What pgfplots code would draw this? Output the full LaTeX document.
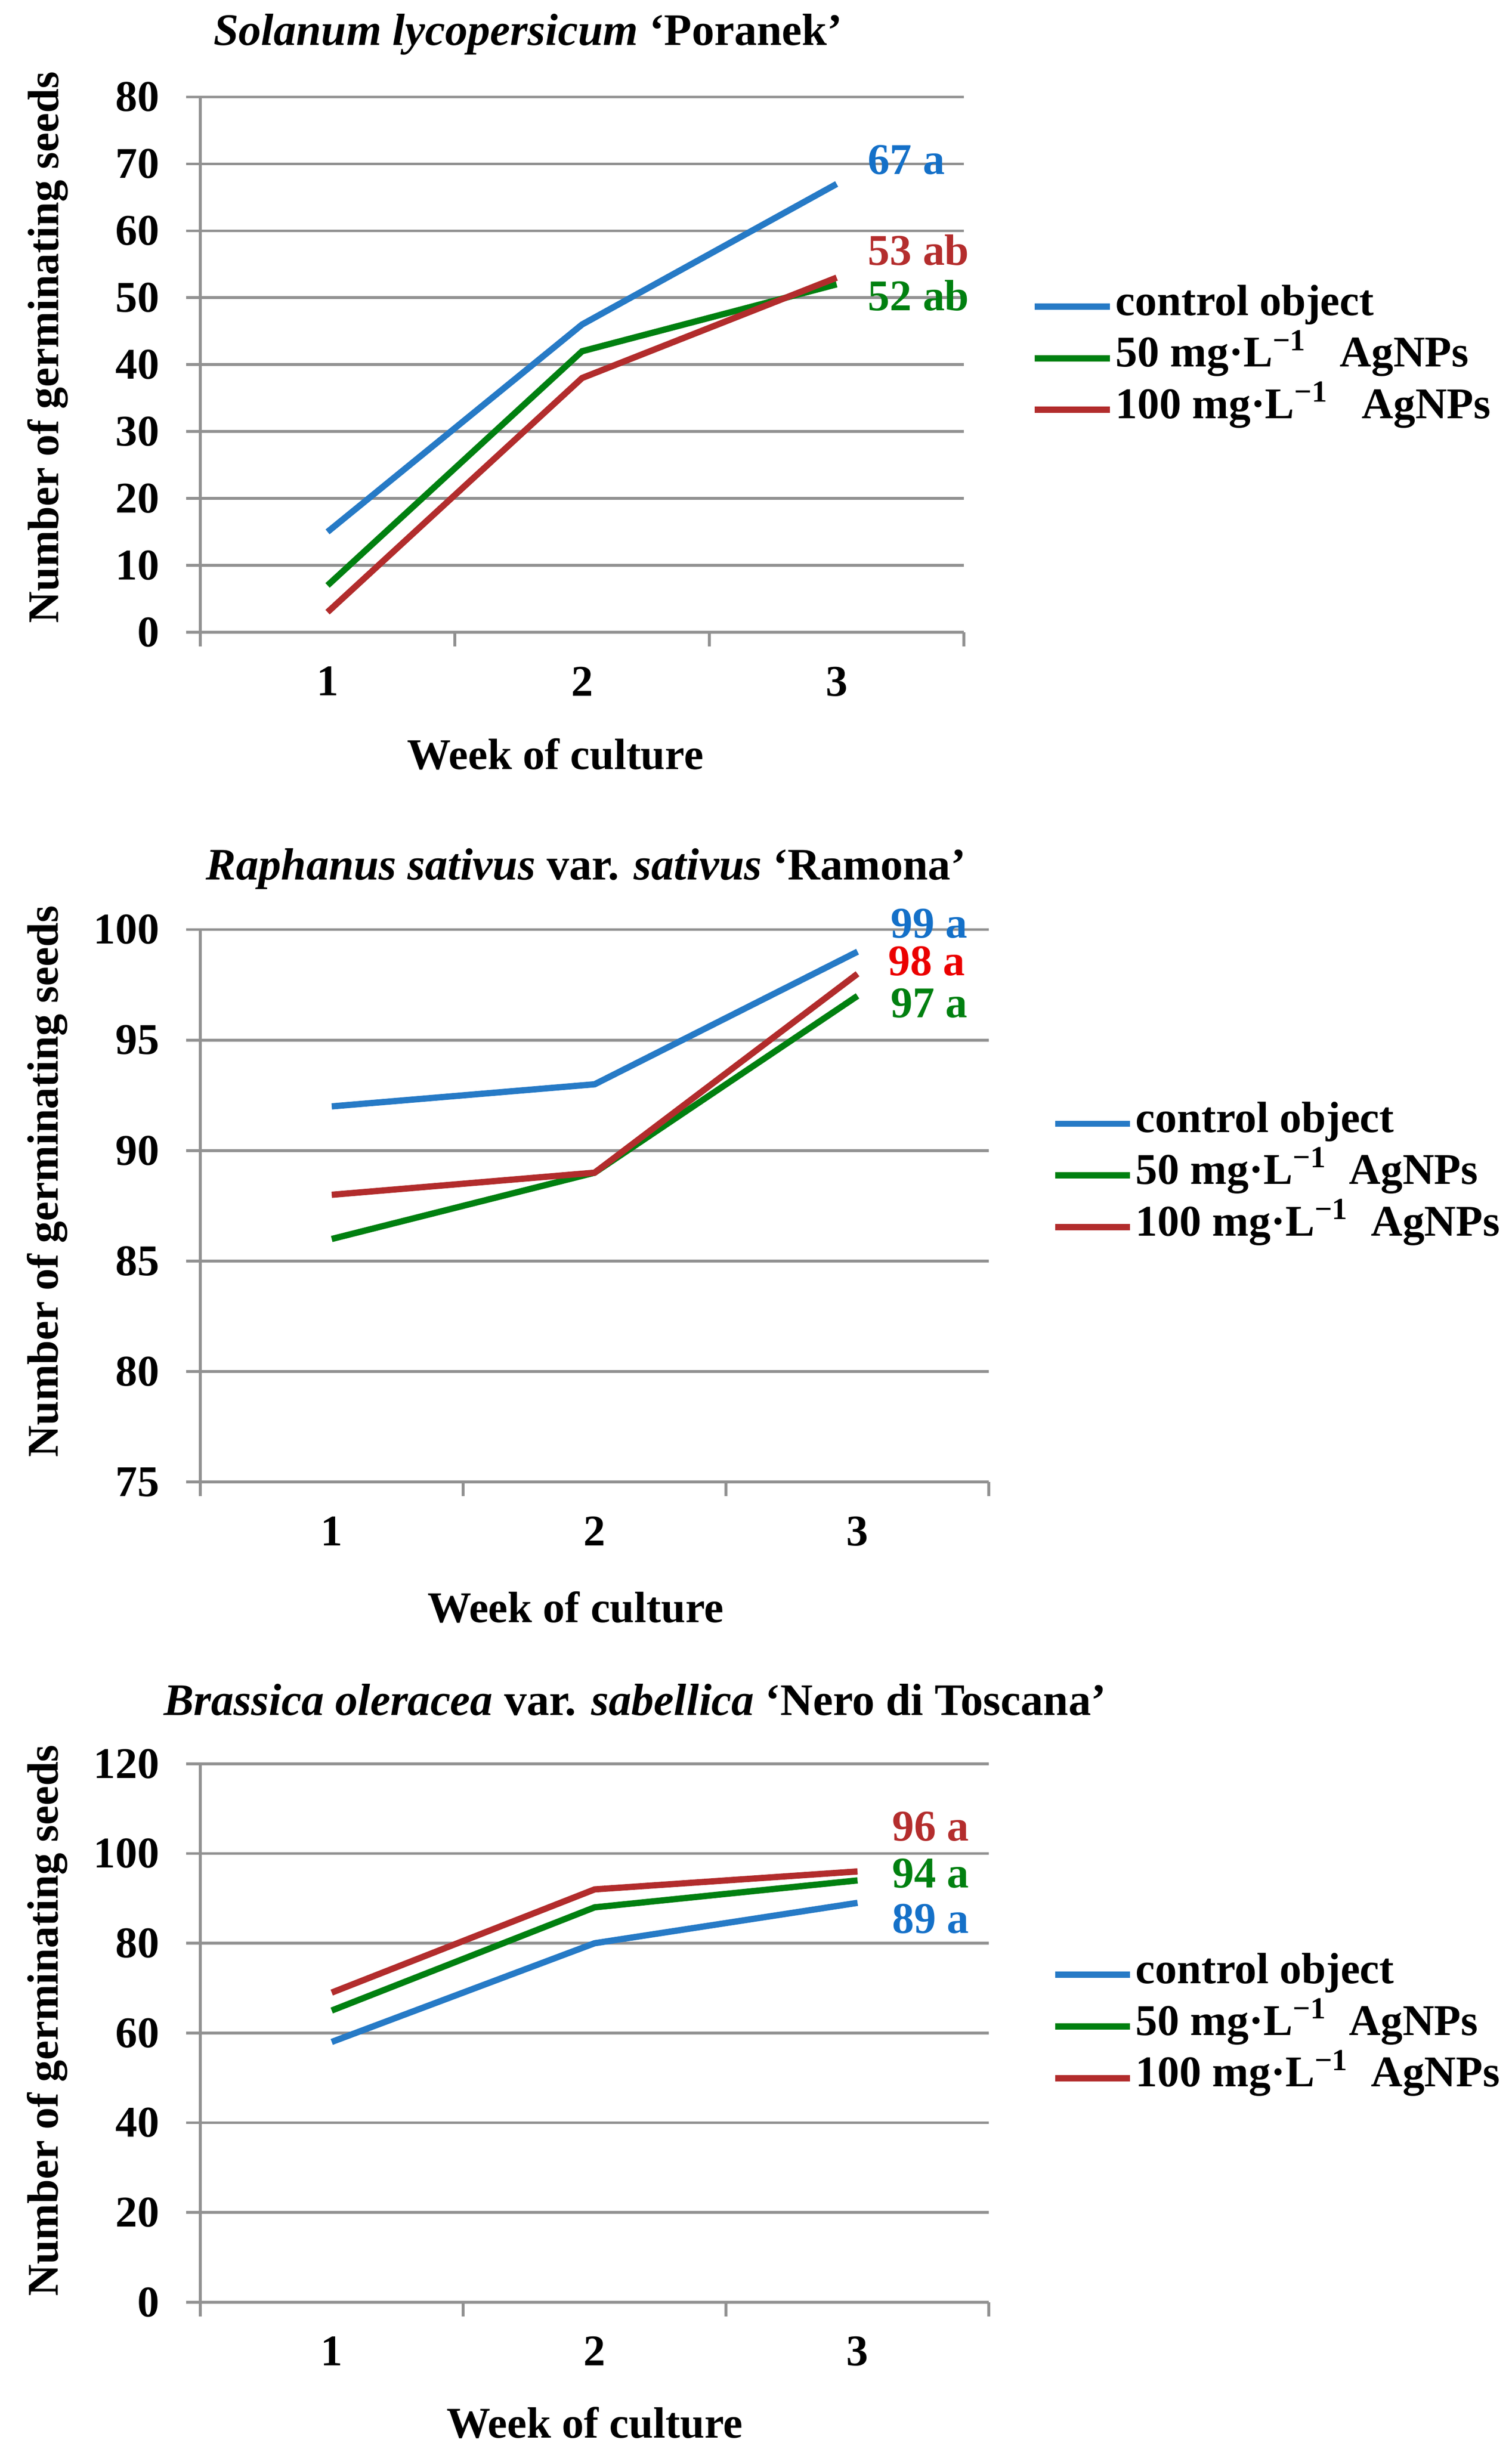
\documentclass[border=0pt]{standalone}
\usepackage{fontspec}
\setmainfont{Liberation Serif}
\usepackage{pgfplots}
\pgfplotsset{compat=1.18}

\definecolor{ctrlLine}{RGB}{38,122,198}
\definecolor{agFifty}{RGB}{0,128,16}
\definecolor{agHundred}{RGB}{178,44,44}
\definecolor{labBlue}{RGB}{20,112,200}
\definecolor{labRed}{RGB}{180,45,45}
\definecolor{labBright}{RGB}{235,0,0}
\definecolor{gridGray}{RGB}{145,145,145}

\newcommand{\bigbf}{\fontsize{14}{16}\selectfont\bfseries}
\newcommand{\titlefont}{\fontsize{14.4}{16}\selectfont\bfseries}

\pgfplotsset{
  germ/.style={
    scale only axis,
    anchor=south west,
    clip=false,
    xmin=0.5, xmax=3.5,
    xtick={0.5,1.5,2.5,3.5},
    xticklabels={},
    extra x ticks={1,2,3},
    extra x tick labels={1,2,3},
    extra x tick style={major tick length=0pt, grid=none,
      xticklabel style={yshift=-7.5pt}},
    major tick length=4.5pt,
    tick align=outside,
    tick style={gridGray, line width=0.9pt},
    axis lines*=left,
    axis line style={gridGray, line width=0.9pt},
    ymajorgrids=true,
    grid style={gridGray, line width=0.9pt},
    /pgf/number format/assume math mode=true,
    tick label style={font=\bigbf},
    yticklabel style={xshift=-5pt},
    label style={font=\bigbf},
    legend cell align=left,
    legend style={draw=none, fill=none, anchor=west, font=\bigbf,
      inner sep=0pt, row sep=0pt,
      nodes={inner xsep=0.8pt, inner ysep=0pt, text height=11pt, text depth=5.5pt}},
    legend image code/.code={\draw[#1, line width=2pt] (0pt,0pt) -- (24pt,0pt);},
    every axis plot/.append style={line width=2pt, mark=none},
  },
}

\begin{document}
\begin{tikzpicture}
\useasboundingbox (0pt,0pt) rectangle (483pt,780.5pt);

% panel 1 - tomato
\begin{axis}[germ,
  at={(64pt,578.5pt)}, width=244pt, height=171pt,
  ymin=0, ymax=80, ytick={0,10,...,80},
  xlabel={Week of culture},
  xlabel style={at={(axis description cs:0.465,-0.228)}, anchor=center},
  ylabel={Number of germinating seeds},
  ylabel style={at={(axis description cs:-0.2,0.532)}, anchor=center},
  legend style={at={(axis description cs:1.088,0.512)}},
]
\addplot[ctrlLine] coordinates {(1,15) (2,46) (3,67)};
\addplot[agFifty] coordinates {(1,7) (2,42) (3,52)};
\addplot[agHundred] coordinates {(1,3) (2,38) (3,53)};
\legend{control object, 50 mg·L\textsuperscript{−1}\enspace\ AgNPs, 100 mg·L\textsuperscript{−1}\enspace\ AgNPs}
\node[font=\titlefont] at (axis description cs:0.429,1.117)
  {\textit{Solanum lycopersicum} ‘Poranek’};
\node[anchor=west, font=\bigbf, text=labBlue] at (axis cs:3.08,70.6) {67 a};
\node[anchor=west, font=\bigbf, text=labRed] at (axis cs:3.08,57.1) {53 ab};
\node[anchor=west, font=\bigbf, text=agFifty] at (axis cs:3.08,50.3) {52 ab};
\end{axis}

% panel 2 - radish
\begin{axis}[germ,
  at={(64pt,307pt)}, width=252pt, height=176.5pt,
  ymin=75, ymax=100, ytick={75,80,...,100},
  xlabel={Week of culture},
  xlabel style={at={(axis description cs:0.476,-0.227)}, anchor=center},
  ylabel={Number of germinating seeds},
  ylabel style={at={(axis description cs:-0.194,0.544)}, anchor=center},
  legend style={at={(axis description cs:1.079,0.555)}},
]
\addplot[ctrlLine] coordinates {(1,92) (2,93) (3,99)};
\addplot[agFifty] coordinates {(1,86) (2,89) (3,97)};
\addplot[agHundred] coordinates {(1,88) (2,89) (3,98)};
\legend{control object, 50 mg·L\textsuperscript{−1}\enspace AgNPs, 100 mg·L\textsuperscript{−1}\enspace AgNPs}
\node[font=\titlefont] at (axis description cs:0.489,1.110)
  {\textit{Raphanus sativus} var. \textit{sativus} ‘Ramona’};
\node[anchor=west, font=\bigbf, text=labBlue] at (axis cs:3.085,100.28) {99 a};
\node[anchor=west, font=\bigbf, text=labBright] at (axis cs:3.075,98.58) {98 a};
\node[anchor=west, font=\bigbf, text=agFifty] at (axis cs:3.085,96.67) {97 a};
\end{axis}

% panel 3 - kale
\begin{axis}[germ,
  at={(64pt,45pt)}, width=252pt, height=172pt,
  ymin=0, ymax=120, ytick={0,20,...,120},
  xlabel={Week of culture},
  xlabel style={at={(axis description cs:0.5,-0.224)}, anchor=center},
  ylabel={Number of germinating seeds},
  ylabel style={at={(axis description cs:-0.194,0.523)}, anchor=center},
  legend style={at={(axis description cs:1.079,0.512)}},
]
\addplot[ctrlLine] coordinates {(1,58) (2,80) (3,89)};
\addplot[agFifty] coordinates {(1,65) (2,88) (3,94)};
\addplot[agHundred] coordinates {(1,69) (2,92) (3,96)};
\legend{control object, 50 mg·L\textsuperscript{−1}\enspace AgNPs, 100 mg·L\textsuperscript{−1}\enspace AgNPs}
\node[font=\titlefont] at (axis description cs:0.551,1.119)
  {\textit{Brassica oleracea} var. \textit{sabellica} ‘Nero di Toscana’};
\node[anchor=west, font=\bigbf, text=labRed] at (axis cs:3.09,106.0) {96 a};
\node[anchor=west, font=\bigbf, text=agFifty] at (axis cs:3.09,95.6) {94 a};
\node[anchor=west, font=\bigbf, text=labBlue] at (axis cs:3.09,85.5) {89 a};
\end{axis}
\end{tikzpicture}
\end{document}
